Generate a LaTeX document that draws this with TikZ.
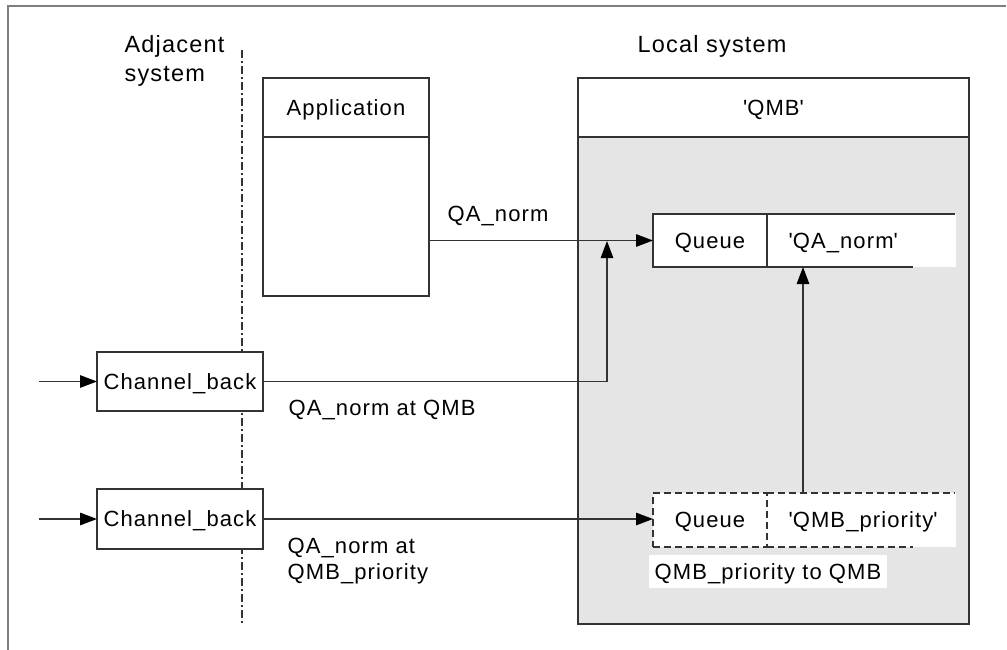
\documentclass[tikz,border=0pt]{standalone}
\usepackage{fontspec}
\setmainfont[LetterSpace=5]{Liberation Sans}
\usetikzlibrary{arrows.meta}
\definecolor{qgray}{HTML}{E5E5E5}
\definecolor{lgray}{HTML}{333333}
\definecolor{fgray}{HTML}{7F7F7F}
\newcommand\sq{\textquotesingle}
\begin{document}
\begin{tikzpicture}[x=1pt,y=-1pt,line width=1.3pt,
  lbl/.style={inner sep=0pt,font=\fontsize{22}{26}\selectfont},
  capcenter/.style={text height=15.8pt,text depth=0pt},
  title/.style={inner sep=0pt,font=\fontsize{23.5}{28}\selectfont},
  box/.style={draw=lgray,fill=white,inner sep=0pt,outer sep=0pt,capcenter,font=\fontsize{22}{26}\selectfont},
  dashbox/.style={box,dash pattern=on 7pt off 4pt},
  arr/.style={draw=lgray,-{Triangle[length=17pt,width=12.5pt,color=black]}},
  sepline/.style={draw=lgray,line width=1.2pt,dash pattern=on 8pt off 3pt on 2pt off 3pt}]
\useasboundingbox (0,0) rectangle (1007,650);
% open frame
\draw[fgray,line width=2pt] (8,650) -- (8,6) -- (1006,6);
% separator
\coordinate (s1) at (242,50);
\coordinate (s2) at (242,623);
\draw[sepline] (s1) -- (s2);
% titles
\node[title,anchor=base west] (adj1) at (124,53) {Adjacent};
\node[title,anchor=base west] (adj2) at (124,82) {system};
\node[title,anchor=base west] (loc) at (637,53) {Local system};
% application
\node[box,minimum width=166pt,minimum height=218pt,anchor=north west] (app) at (263,78) {};
\node[box,minimum width=166pt,minimum height=59pt,anchor=north west] (apph) at (263,78) {Application};
% QMB
\node[box,fill=qgray,minimum width=391pt,minimum height=546pt,anchor=north west] (qmb) at (578,78) {};
\node[box,minimum width=391pt,minimum height=59pt,anchor=north west] (qmbh) at (578,78) {\sq QMB\sq};
% queue QA_norm
\fill[white] (653,214) rectangle (956,267);
\node[box,minimum width=114pt,minimum height=53pt] (q1) at (710,240.5) {Queue};
\node[lbl,capcenter,anchor=west] (q1n) at (788,240.5) {\sq QA\_norm\sq};
\draw[lgray] (q1.north east) -- (955,214);
\draw[lgray] (q1.south east) -- (913,267);
% queue QMB_priority
\fill[white] (653,493) rectangle (956,547);
\node[dashbox,minimum width=114pt,minimum height=54pt] (q2) at (710,520) {Queue};
\node[lbl,capcenter,anchor=west] (q2n) at (788,520) {\sq QMB\_priority\sq};
\draw[lgray,dash pattern=on 7pt off 4pt] (q2.north east) -- (955,493);
\draw[lgray,dash pattern=on 7pt off 4pt] (q2.south east) -- (913,547);
\node[lbl,capcenter,fill=white,anchor=west,minimum height=33pt,inner xsep=6pt] (lpt) at (648,571.5) {QMB\_priority to QMB};
% channels
\node[box,minimum width=166pt,minimum height=59pt] (ch1) at (180,381.5) {Channel\_back};
\node[box,minimum width=166pt,minimum height=60pt] (ch2) at (180,519) {Channel\_back};
% labels
\node[lbl,anchor=base west] (lqa) at (447,222) {QA\_norm};
\node[lbl,anchor=base west] (lqq) at (288,415) {QA\_norm at QMB};
\node[lbl,anchor=base west] (lp1) at (287,553) {QA\_norm at};
\node[lbl,anchor=base west] (lp2) at (287,579) {QMB\_priority};
% connectors
\coordinate (in1) at (39,381.5);
\coordinate (in2) at (39,519);
\coordinate (j1) at (607,241);
\coordinate (q2top) at (803,493);
\coordinate (q1bot) at (803,267);
\draw[arr] (in1) -- (ch1.west);
\draw[arr] (in2) -- (ch2.west);
\draw[arr] (app.east |- q1.west) -- (q1.west);
\draw[arr] (ch1.east) -- (ch1.east -| j1) -- (j1);
\draw[arr] (ch2.east) -- (ch2.east -| q2.west);
\draw[arr] (q2top) -- (q1bot);
\end{tikzpicture}
\end{document}
